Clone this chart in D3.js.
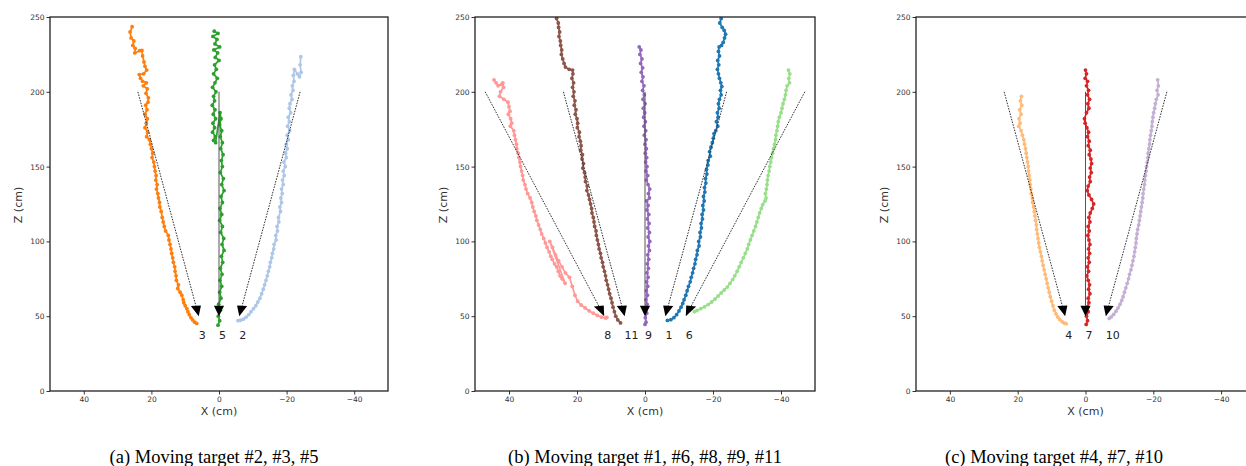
<!DOCTYPE html>
<html>
<head>
<meta charset="utf-8">
<script src="https://cdn.jsdelivr.net/npm/d3@7"></script>
<style>
  html, body { margin: 0; padding: 0; background: #fff; }
  svg { display: block; }
</style>
</head>
<body>
<svg id="chart" width="1246" height="466"></svg>
<script>
// Axis ticks shared by all three panels
const xTicks = [40, 20, 0, -20, -40];
const zTicks = [0, 50, 100, 150, 200, 250];

// Panel captions
const captions = [
  "(a) Moving target #2, #3, #5",
  "(b) Moving target #1, #6, #8, #9, #11",
  "(c) Moving target #4, #7, #10"
];

// Measured trajectories, [x (cm), z (cm)] from far to near
const track1 = [[-22.2,253],[-22.4,249],[-22.0,246],[-22.7,243],[-23.3,241],[-23.7,238.5],[-23.4,236],[-23.0,233],[-22.5,231],[-21.8,230],[-21.6,227],[-21.9,224],[-21.4,221],[-21.7,218],[-21.3,215],[-21.6,212],[-21.9,209],[-22.3,206],[-22.6,203.5],[-22.2,201],[-22.4,198],[-21.9,195],[-21.6,192],[-21.8,189],[-21.3,186],[-21.5,183],[-21.0,180],[-21.4,177],[-20.8,174],[-20.3,172],[-20.1,169],[-19.8,166],[-19.4,163],[-19.0,160],[-19.2,157],[-18.6,154],[-18.5,151],[-18.1,148],[-18.2,145],[-17.8,142],[-17.9,139],[-17.5,136],[-17.6,133],[-17.2,130],[-17.4,127],[-17.0,124],[-17.2,121],[-16.8,118],[-16.9,115],[-16.5,112],[-16.6,109],[-16.2,106],[-16.3,103],[-15.8,100],[-15.9,97],[-15.4,94],[-15.3,91],[-14.9,88],[-14.7,85],[-14.3,82],[-14.0,79],[-13.6,76],[-13.3,73],[-12.8,70],[-12.4,67],[-12.0,64],[-11.5,61],[-11.1,58.5],[-10.6,56],[-10.0,53.5],[-9.3,51],[-8.5,49],[-7.6,47.7],[-6.6,47.2]];
const track2 = [[-24.2,223.5],[-24.0,218],[-24.3,213],[-23.8,210],[-23.2,212],[-22.3,215],[-22.0,211],[-22.2,207],[-21.7,204],[-21.9,201],[-21.3,198],[-21.6,195],[-21.0,192],[-20.8,189],[-21.2,186],[-20.5,183],[-20.8,180],[-20.3,177],[-20.9,174],[-20.2,171],[-20.5,168],[-19.9,165],[-20.2,162],[-19.7,159],[-19.9,156],[-19.2,153],[-19.6,150],[-19.0,147],[-19.3,144],[-18.8,141],[-19.0,138],[-18.5,135],[-18.7,132],[-18.3,129],[-18.5,126],[-18.0,123],[-18.2,120],[-17.6,116],[-17.7,113],[-17.2,110],[-17.3,107],[-16.8,104],[-16.9,101],[-16.3,98],[-16.2,95],[-15.8,92],[-15.6,89],[-15.2,86],[-15.0,83],[-14.6,80],[-14.3,77],[-13.9,74],[-13.5,71],[-13.1,68],[-12.6,65],[-12.1,62],[-11.5,59.5],[-10.9,57],[-10.2,55],[-9.5,53],[-8.8,51],[-8.0,49.3],[-7.2,48],[-6.4,47.3],[-5.6,47]];
const track3 = [[25.7,243.5],[26.3,240],[26.0,236],[25.2,234],[25.5,231],[24.8,229],[24.9,226],[23.5,227.5],[22.8,227.6],[22.6,224],[22.2,220],[21.9,217],[21.4,214.5],[22.3,212],[23.6,211.5],[23.2,209],[22.6,207],[21.5,206],[22.4,204],[21.2,202],[21.6,199],[20.9,196],[21.0,193],[21.7,191],[21.3,188],[21.9,185],[21.2,182],[21.5,179],[21.9,176],[21.1,173],[21.4,170],[20.6,168],[20.3,165],[20.0,162],[19.6,159],[19.8,156],[19.3,153],[19.1,150],[18.9,147],[18.6,144],[18.7,141],[18.3,138],[18.5,135],[18.1,132],[17.9,129],[17.6,126],[17.5,123],[17.1,120],[16.8,116],[16.5,113],[16.2,110],[15.8,107],[15.0,104],[14.8,101],[14.5,98],[14.2,95],[14.0,92],[13.7,89],[13.5,86],[13.1,83],[13.0,80],[12.7,77],[12.6,74],[12.0,71],[12.2,68.5],[11.5,66],[11.0,64],[10.6,61],[10.4,59],[10.0,57],[9.5,55],[9.2,53],[8.8,51],[8.3,49],[7.8,47.5],[7.2,46],[6.6,45.2]];
const track4 = [[18.9,197],[19.2,194],[18.8,191],[19.4,188],[19.0,185],[19.6,182],[19.3,179],[19.7,177],[19.0,174],[18.6,171],[18.2,168],[18.0,165],[17.7,162],[17.5,159],[17.3,156],[17.1,153],[16.9,150],[16.8,147],[16.6,144],[16.4,141],[16.3,138],[16.1,135],[16.0,132],[15.7,129],[15.6,126],[15.3,123],[15.1,120],[14.9,117],[14.7,114],[14.5,111],[14.4,108],[14.2,105],[14.0,102],[13.8,99],[13.6,96],[13.3,93],[13.0,90],[12.8,87],[12.5,84],[12.2,81],[11.9,78],[11.6,75],[11.3,72],[11.0,69],[10.7,66],[10.4,63],[10.0,60],[9.6,57],[9.2,54],[8.7,51.5],[8.2,49.5],[7.6,47.8],[6.9,46.3],[6.2,45.3],[5.7,45]];
const track5 = [[1.4,240.5],[0.3,239],[1.8,237],[0.6,235],[1.2,232],[-0.2,230],[1.5,228],[0.4,226],[1.1,223],[0.0,221],[1.3,218],[0.8,215],[1.6,212],[0.5,209],[1.2,206],[1.9,203],[0.9,200],[1.6,197],[1.3,194],[2.0,191],[1.2,188],[1.7,185],[1.0,182],[1.8,179],[1.3,176],[1.9,173],[1.1,170],[1.6,167.5],[1.0,166],[-0.3,186],[-0.6,182],[-0.2,178],[-0.8,174],[-0.4,170],[-1.0,166],[-0.5,162],[-1.2,158],[-0.7,154],[-1.0,150],[-0.4,146],[-1.3,142],[-0.8,138],[-1.5,134],[-0.6,130],[-1.0,126],[-0.3,122],[-0.8,118],[-0.2,114],[-1.0,110],[-0.5,106],[-1.4,102],[-0.9,98],[-1.5,94],[-0.7,90],[-1.1,86],[-0.4,82],[-0.9,78],[-0.3,74],[-0.8,70],[-0.2,66],[-0.6,62],[0.1,58],[-0.4,54],[0.2,50],[-0.2,47],[0.3,44]];
const track6 = [[-42.2,214.5],[-42.6,212],[-42.3,209],[-42.5,206],[-41.8,204],[-41.5,201],[-41.3,198],[-41.0,195],[-40.6,192],[-40.3,189],[-40.0,186],[-39.5,183],[-39.2,180],[-39.0,177],[-38.8,174],[-38.5,171],[-38.4,168],[-38.1,165],[-37.8,162],[-37.5,159],[-37.2,156],[-37.0,153],[-36.7,150],[-36.5,147],[-36.2,144],[-36.0,141],[-35.9,138],[-35.7,135],[-35.4,132],[-35.6,129],[-35.3,127],[-34.6,124.5],[-34.2,122],[-33.7,119],[-33.3,116],[-32.9,113],[-32.5,110],[-32.0,107],[-31.5,104],[-31.0,101],[-30.5,98],[-30.1,95],[-29.5,92],[-28.9,89],[-28.3,86],[-27.7,83],[-27.1,80],[-26.4,77],[-25.8,74.5],[-25.0,72],[-24.2,69.5],[-23.3,67.5],[-22.4,65.5],[-21.5,63.5],[-20.6,61.5],[-19.6,59.5],[-18.6,57.8],[-17.5,56.3],[-16.4,55],[-15.3,53.8],[-14.5,53]];
const track7 = [[0.0,214.5],[-0.3,212],[0.1,209],[-0.6,207],[-0.3,204],[-0.9,201],[-0.6,198],[-1.2,195],[-0.7,192],[-1.0,189],[-0.3,186],[0.3,182],[0.1,179],[-0.4,176],[-0.9,173],[-0.6,170],[-1.1,167],[-0.8,164],[-1.4,161],[-1.1,158],[-1.6,155],[-1.8,152],[-1.4,149],[-1.7,146],[-1.2,143],[-1.4,140],[-0.8,137],[-0.5,134],[-1.0,131],[-1.8,128],[-2.4,125],[-2.0,122],[-1.4,119],[-1.0,116],[-1.3,113],[-0.8,110],[-1.1,107],[-0.7,104],[-1.0,101],[-1.3,98],[-0.9,95],[-1.2,92],[-0.8,89],[-1.1,86],[-0.6,83],[-0.9,80],[-0.4,77],[-0.8,74],[-1.2,71],[-0.9,68],[-1.3,65],[-0.8,62],[-1.0,59],[-0.5,56],[-0.8,53],[-0.3,50],[-0.6,47],[-0.2,44.5]];
const track8 = [[44.4,208],[43.8,206],[43.2,204],[42.2,205],[41.8,206],[41.6,203],[42.5,200],[42.8,197],[41.5,195],[40.3,193],[40.0,190],[39.7,187],[40.2,185],[39.5,182],[39.2,179],[39.6,177],[38.6,174],[38.4,171],[38.1,168],[37.8,165],[37.7,162],[37.3,159],[37.1,156],[36.8,153],[36.6,150],[36.3,147],[36.0,144],[35.8,141],[35.3,138],[35.0,135],[34.5,132],[33.8,129],[33.3,126],[33.0,123],[32.6,120],[32.1,117],[31.8,114],[31.3,111],[30.8,108],[30.4,105],[29.8,102],[29.3,99],[28.8,96],[28.2,93],[27.7,90],[27.3,88],[26.6,85],[26.0,83],[25.5,80],[25.0,77],[24.4,75],[23.5,72],[28.0,100],[27.2,96],[26.3,91],[25.4,87],[24.4,83],[23.4,79],[22.2,76],[21.4,70],[20.6,64],[19.8,60],[18.8,57.5],[17.6,55.5],[16.4,53.5],[15.2,52],[14.0,50.5],[12.8,49.4],[11.6,48.8],[11.2,49.2]];
const track9 = [[1.7,230],[1.2,228],[1.5,225],[0.9,222],[1.3,219],[0.7,216],[1.1,213],[0.6,210],[0.9,207],[0.3,204],[0.7,201],[0.2,198],[0.6,195],[0.0,192],[0.5,189],[0.1,186],[0.4,183],[-0.1,180],[0.3,177],[-0.2,174],[0.2,171],[-0.3,168],[0.0,165],[-0.4,162],[-0.1,159],[-0.5,156],[-0.2,153],[-0.6,150],[-0.3,147],[-0.8,144],[-0.4,141],[-0.9,138],[-1.4,135],[-1.0,132],[-1.3,129],[-0.5,127],[-0.9,124],[-0.6,121],[-1.1,118],[-0.7,115],[-1.2,112],[-0.8,109],[-1.3,106],[-0.9,103],[-1.4,100],[-1.0,97],[-1.3,94],[-0.8,91],[-1.1,88],[-0.7,85],[-1.0,82],[-0.6,79],[-0.9,76],[-0.5,73],[-0.8,70],[-0.4,67],[-0.7,64],[-0.3,61],[-0.6,58],[-0.2,55],[-0.5,52],[-0.1,49],[-0.3,46],[0.0,44.5]];
const track10 = [[-21.3,208],[-21.5,204],[-21.1,201],[-21.4,198],[-20.9,195],[-20.6,192],[-20.4,189],[-20.1,186],[-19.9,183],[-19.7,180],[-19.6,177],[-19.4,174],[-19.2,171],[-19.0,168],[-18.9,165],[-18.7,162],[-18.5,159],[-18.4,156],[-18.2,153],[-18.0,150],[-17.9,147],[-17.7,144],[-17.5,141],[-17.4,138],[-17.2,135],[-17.0,132],[-16.9,129],[-16.7,126],[-16.5,123],[-16.3,120],[-16.1,117],[-15.9,114],[-15.7,111],[-15.4,108],[-15.2,105],[-15.0,102],[-14.9,99],[-14.7,96],[-14.5,93],[-14.3,90],[-14.0,87],[-13.7,84],[-13.4,81],[-13.0,78],[-12.7,75],[-12.3,72],[-11.9,69],[-11.5,66],[-11.1,63],[-10.7,60.5],[-10.2,58],[-9.6,55.5],[-9.0,53.3],[-8.3,51.2],[-7.6,49.5],[-7.0,48.5]];
const track11 = [[26.3,253],[26.0,249],[25.5,246],[25.4,243],[25.1,240],[25.3,237],[24.9,234],[24.8,231],[24.5,228],[24.6,225],[24.2,222],[23.8,219],[23.4,216.5],[22.3,215],[21.3,214.5],[21.2,212],[21.5,209],[21.0,206],[21.3,203],[20.9,200],[21.1,197],[20.6,194],[20.8,191],[20.3,188],[20.5,185],[20.0,182],[19.8,179],[19.9,176],[19.3,173],[19.4,170],[19.0,167],[18.8,164],[18.9,161],[18.4,158],[18.5,155],[18.1,152],[18.3,149],[17.8,146],[17.6,143],[17.5,140],[17.0,137],[17.1,134],[16.6,131],[16.3,128],[16.0,125],[15.7,122],[15.6,119],[15.2,116],[15.0,113],[14.8,110],[14.4,107],[14.3,104],[14.0,101],[13.7,98],[13.5,95],[13.1,92],[12.9,89],[12.5,86],[12.3,83],[11.9,80],[11.6,77],[11.4,74],[11.0,71],[10.7,68],[10.4,65],[10.0,62],[9.7,59],[9.4,56],[9.0,53],[8.6,50],[8.0,47.5],[7.2,45.5]];

// Planned paths: target id, start [x, z] and end [x, z]
const targetIds = [1, 2, 3, 4, 5, 6, 7, 8, 9, 10, 11];
const pathStart = [[-24,200],[-24,200],[24,200],[24,200],[0,200],[-47,200],[0,200],[47,200],[0,200],[-24,200],[24,200]];
const pathEnd   = [[-6,50],[-6,50],[6,50],[6,50],[0,50],[-12,50],[0,50],[12,50],[0,50],[-6,50],[6,50]];
const trackColors = ["#1f77b4","#aec7e8","#ff7f0e","#ffbb78","#2ca02c","#98df8a","#d62728","#ff9896","#9467bd","#c5b0d5","#8c564b"];
const tracks = [track1, track2, track3, track4, track5, track6, track7, track8, track9, track10, track11];

// Which targets appear in each panel (drawing order)
const panelTargets = [[3, 5, 2], [8, 11, 9, 1, 6], [4, 7, 10]];

// Layout of the three plot areas (pixels)
const panels = [
  { left: 50,  right: 388,  cap: 214 },
  { left: 475, right: 815,  cap: 645 },
  { left: 916, right: 1255, cap: 1054 }
];
const plotTop = 17, plotBottom = 391;

const svg = d3.select("#chart");
const fmt = d3.format("d");

panels.forEach((p, pi) => {
  const x = d3.scaleLinear().domain([50, -50]).range([p.left, p.right]);
  const z = d3.scaleLinear().domain([0, 250]).range([plotBottom, plotTop]);
  const g = svg.append("g");

  const clipId = "clip" + pi;
  g.append("clipPath").attr("id", clipId)
    .append("rect").attr("x", p.left).attr("y", plotTop)
    .attr("width", p.right - p.left).attr("height", plotBottom - plotTop);

  // axes
  const xAxis = d3.axisBottom(x).tickValues(xTicks).tickSize(3.5).tickPadding(2).tickFormat(fmt);
  const zAxis = d3.axisLeft(z).tickValues(zTicks).tickSize(3.5).tickPadding(2).tickFormat(fmt);
  const gx = g.append("g").attr("transform", `translate(0,${plotBottom})`).call(xAxis);
  const gz = g.append("g").attr("transform", `translate(${p.left},0)`).call(zAxis);
  [gx, gz].forEach(a => {
    a.select(".domain").remove();
    a.selectAll(".tick line").attr("stroke", "#333").attr("stroke-width", 1);
    a.selectAll(".tick text").attr("fill", "#333")
      .style("font-family", "DejaVu Sans").style("font-size", "7.5px");
  });

  // axis titles
  g.append("text")
    .attr("x", x(0))
    .attr("y", 415)
    .attr("text-anchor", "middle")
    .style("font-family", "DejaVu Sans").style("font-size", "11px").attr("fill", "#333")
    .text("X (cm)");
  g.append("text")
    .attr("transform", `translate(${p.left - 28},${(plotTop + plotBottom) / 2 + 1}) rotate(-90)`)
    .attr("text-anchor", "middle")
    .style("font-family", "DejaVu Sans").style("font-size", "11px").attr("fill", "#333")
    .text("Z (cm)");

  const plot = g.append("g").attr("clip-path", `url(#${clipId})`);
  const line = d3.line().x(d => x(d[0])).y(d => z(d[1]));

  // measured tracks with markers
  panelTargets[pi].forEach(id => {
    const k = targetIds.indexOf(id);
    const pts = tracks[k];
    plot.append("path").datum(pts)
      .attr("d", line).attr("fill", "none")
      .attr("stroke", trackColors[k]).attr("stroke-width", 1.7)
      .attr("stroke-linejoin", "round");
    plot.append("g").selectAll("circle").data(pts).join("circle")
      .attr("cx", d => x(d[0])).attr("cy", d => z(d[1])).attr("r", 1.9)
      .attr("fill", trackColors[k]);
  });

  // planned paths: shaft plus a head built in data units
  const headW = 3, headL = 7;
  panelTargets[pi].forEach(id => {
    const k = targetIds.indexOf(id);
    const s = pathStart[k], e = pathEnd[k];
    const dx = e[0] - s[0], dz = e[1] - s[1];
    const len = Math.hypot(dx, dz);
    const ux = dx / len, uz = dz / len;
    const bx = e[0] - headL * ux, bz = e[1] - headL * uz;
    const px = -uz, pz = ux;
    const vertical = Math.abs(dx) < 1e-6;
    plot.append("line")
      .attr("x1", x(s[0])).attr("y1", z(s[1]))
      .attr("x2", x(bx)).attr("y2", z(bz))
      .attr("stroke", vertical ? "#555" : "#333")
      .attr("stroke-width", 1)
      .attr("stroke-dasharray", vertical ? null : "1.6,1.2");
    const head = [
      [bx + px * headW / 2, bz + pz * headW / 2],
      [e[0], e[1]],
      [bx - px * headW / 2, bz - pz * headW / 2]
    ];
    plot.append("path")
      .attr("d", "M" + head.map(h => [x(h[0]), z(h[1])].join(",")).join("L") + "Z")
      .attr("fill", "#000");
    g.append("text")
      .attr("x", x(e[0])).attr("y", z(35))
      .style("font-family", "DejaVu Sans").style("font-size", "11px").attr("fill", "#222")
      .text(id);
  });

  // frame
  g.append("rect")
    .attr("x", p.left).attr("y", plotTop)
    .attr("width", p.right - p.left).attr("height", plotBottom - plotTop)
    .attr("fill", "none").attr("stroke", "#222").attr("stroke-width", 1.3);

  // caption
  svg.append("text")
    .attr("x", p.cap).attr("y", 463)
    .attr("text-anchor", "middle")
    .style("font-family", "Liberation Serif").style("font-size", "18.5px").attr("fill", "#000")
    .text(captions[pi]);
});
</script>
</body>
</html>
